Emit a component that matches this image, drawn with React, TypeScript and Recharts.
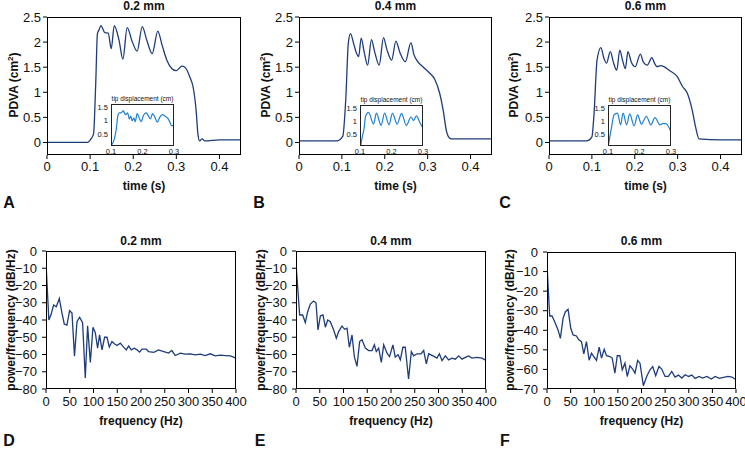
import React from 'react';
import { LineChart, Line, XAxis, YAxis } from 'recharts';

const FONT = '"Liberation Sans", Arial, Helvetica, sans-serif';
const NAVY = '#1f3c7a';
const INSET_BLUE = '#1f80d0';
const TEXT = '#111';

// PDVA traces (time in s, area in cm^2)
const timeA = [0, 0.05, 0.094, 0.102, 0.108, 0.113, 0.117, 0.121, 0.125, 0.134, 0.142, 0.149, 0.156, 0.167, 0.176, 0.186, 0.198, 0.209, 0.221, 0.232, 0.244, 0.257, 0.267, 0.278, 0.29, 0.3, 0.313, 0.32, 0.332, 0.339, 0.346, 0.35, 0.354, 0.36, 0.366, 0.4, 0.45];
const pdvaA = [0, 0, 0, 0.07, 0.17, 1.17, 2.17, 2.25, 2.33, 2.19, 2.18, 1.87, 2.33, 2.04, 1.66, 2.29, 2.0, 1.82, 2.31, 2.02, 1.77, 2.22, 1.94, 1.64, 1.47, 1.43, 1.52, 1.5, 1.29, 1.1, 0.63, 0.17, 0.03, 0.07, 0.03, 0.05, 0.05];

const timeB = [0, 0.05, 0.088, 0.102, 0.109, 0.115, 0.12, 0.128, 0.134, 0.139, 0.145, 0.152, 0.16, 0.169, 0.176, 0.187, 0.197, 0.205, 0.216, 0.226, 0.235, 0.248, 0.261, 0.268, 0.276, 0.29, 0.305, 0.317, 0.328, 0.336, 0.344, 0.348, 0.355, 0.4, 0.45];
const pdvaB = [0.03, 0.03, 0.03, 0.12, 0.85, 1.98, 2.17, 1.95, 1.78, 1.71, 2.08, 1.8, 1.54, 2.05, 1.82, 1.54, 2.09, 1.85, 1.64, 2.02, 1.8, 1.61, 1.99, 1.75, 1.62, 1.5, 1.38, 1.25, 0.98, 0.65, 0.22, 0.12, 0.07, 0.07, 0.07];

const timeC = [0, 0.05, 0.088, 0.1, 0.105, 0.112, 0.121, 0.128, 0.134, 0.143, 0.15, 0.158, 0.165, 0.172, 0.178, 0.184, 0.192, 0.201, 0.213, 0.22, 0.229, 0.24, 0.246, 0.252, 0.26, 0.268, 0.28, 0.299, 0.311, 0.323, 0.334, 0.342, 0.35, 0.4, 0.45];
const pdvaC = [0.03, 0.03, 0.03, 0.11, 0.57, 1.64, 1.89, 1.68, 1.58, 1.81, 1.6, 1.44, 1.84, 1.62, 1.47, 1.81, 1.6, 1.51, 1.76, 1.6, 1.54, 1.69, 1.58, 1.51, 1.53, 1.51, 1.44, 1.31, 1.12, 0.97, 0.64, 0.3, 0.07, 0.05, 0.05];

// tip displacement insets (cm)
const tipTimeA = [0.103, 0.11, 0.116, 0.122, 0.126, 0.132, 0.139, 0.146, 0.153, 0.158, 0.163, 0.167, 0.173, 0.177, 0.183, 0.191, 0.196, 0.203, 0.211, 0.219, 0.225, 0.232, 0.239, 0.247, 0.255, 0.263, 0.271, 0.28, 0.287, 0.292, 0.3];
const tipA = [0.1, 0.29, 0.62, 1.19, 1.29, 1.29, 1.36, 1.22, 1.29, 1.06, 1.17, 1.0, 1.09, 0.96, 1.26, 1.06, 0.96, 1.19, 1.29, 1.17, 1.06, 1.26, 1.13, 0.94, 1.13, 1.22, 1.17, 1.09, 0.94, 0.81, 0.81];

const tipTimeB = [0.102, 0.107, 0.113, 0.118, 0.127, 0.143, 0.152, 0.167, 0.178, 0.192, 0.203, 0.218, 0.232, 0.247, 0.262, 0.27, 0.279, 0.29, 0.3];
const tipB = [0.05, 0.39, 0.73, 1.2, 1.34, 0.89, 1.31, 0.84, 1.31, 0.86, 1.3, 0.89, 1.3, 0.84, 1.16, 1.03, 1.2, 0.95, 0.73];

const tipTimeC = [0.102, 0.111, 0.119, 0.13, 0.14, 0.148, 0.159, 0.169, 0.183, 0.194, 0.206, 0.222, 0.236, 0.249, 0.265, 0.276, 0.286, 0.3];
const tipC = [0.12, 0.75, 1.24, 1.31, 0.86, 1.31, 0.86, 1.28, 0.82, 1.24, 0.89, 1.19, 0.86, 1.14, 0.86, 0.92, 0.89, 0.58];

// power spectra (Hz, dB/Hz)
const freqD = [0, 6, 10.5, 16, 21.7, 28, 33.6, 38.5, 44, 49.7, 54.7, 60, 65.2, 70.8, 77, 82.7, 87.6, 93.3, 98.9, 103.8, 108.6, 112.8, 117.9, 123.4, 128.4, 133.3, 138.9, 143.9, 149.5, 156.4, 163.4, 169, 174, 179.6, 185.9, 191.6, 197, 202, 211, 216, 227, 237, 248, 258, 265, 272, 283, 293, 304, 314, 325, 335, 346, 356, 367, 378, 388, 395, 400];
const dbD = [-7, -40, -37, -31.3, -32.3, -27.5, -36, -42.3, -43, -34.6, -36, -61, -41, -38.4, -41.5, -73.6, -43.4, -64.6, -44.2, -47.3, -56.3, -48.6, -57.3, -50, -50, -55.7, -52.5, -53.8, -54.8, -53.4, -55.7, -57.3, -55, -57.3, -56.4, -57.3, -58.6, -56.9, -56.9, -58.3, -58.8, -57.3, -58.3, -59.2, -57.7, -60.6, -59.2, -59.8, -59.6, -60.2, -59.8, -60.6, -59.6, -60.8, -60.4, -60.6, -60.8, -61.5, -62.3];

const freqE = [0, 7.7, 14, 19.6, 24.6, 30.2, 37.2, 42.1, 46.3, 51.2, 56.8, 61.8, 66.7, 72.3, 79.3, 84.9, 89.8, 96.8, 102.5, 107.4, 112.3, 117.9, 122.8, 128.4, 134, 139, 146, 153, 160, 165, 169, 174, 179.6, 184.6, 191.6, 197, 204, 209, 215, 219.6, 225, 230, 237, 242.8, 247.7, 254.7, 263, 268.8, 274.4, 279.3, 288.4, 296.8, 301.8, 307.4, 314.4, 321.4, 328.4, 335.4, 342.5, 349.5, 356.5, 363.5, 370.5, 381, 391.6, 400];
const dbE = [-7.3, -37.1, -37.1, -41.5, -35.2, -30.8, -29, -30, -45.8, -37.7, -37.1, -44.2, -40, -41, -45.8, -50.6, -46.7, -43.5, -45.4, -44.8, -55.8, -48.7, -61.2, -66.9, -52.5, -51.5, -56.3, -57.7, -57.7, -54.4, -58.3, -56.3, -64.6, -54.4, -59.2, -61.2, -54.4, -61.5, -60.2, -63.1, -55.8, -55.8, -74.2, -58.3, -60.8, -59.6, -59.6, -57.7, -65.4, -59.6, -60.8, -62.1, -59.6, -63.5, -60.8, -63.1, -62.1, -62.7, -60.8, -62.7, -61.7, -60.8, -62.1, -61.7, -62.1, -63.5];

const freqF = [0, 5.7, 10.6, 16.3, 23.4, 28.3, 34, 38.9, 44.6, 50.3, 55.2, 62.3, 67.3, 72.9, 77.9, 83.5, 89.2, 94.2, 99.1, 104.8, 110.4, 115.4, 121, 126, 133, 138, 143.7, 148.7, 154.3, 159.3, 165, 169.9, 175.6, 181.2, 186.2, 191.9, 196.8, 203.9, 211, 218, 223.7, 230, 237, 242.8, 249.9, 257, 264, 271, 278.2, 285.3, 292.4, 299.5, 306.5, 313.6, 322, 329.2, 338.4, 347.6, 356, 364.6, 373.8, 383, 391.5, 400];
const dbF = [-6.8, -32.7, -32.7, -35.6, -39.8, -44.1, -33.9, -30.5, -29.3, -39, -42.4, -42.9, -44.9, -45.8, -52, -45.8, -55.3, -51.7, -53.4, -55.4, -48.6, -54.2, -49.7, -53, -53.4, -54.2, -61.9, -53, -53, -60.2, -56.8, -63.6, -58.1, -59.8, -61.9, -55.4, -56.8, -68.3, -63.6, -60.2, -58.5, -63.2, -58.5, -59.8, -63.6, -63.6, -61, -63.9, -62.9, -64.4, -62.7, -63.6, -62.9, -64.6, -63.6, -64.4, -63.6, -64.9, -63.6, -64.6, -64.1, -63.6, -63.9, -65.3];

const timeTicks = [0, 0.1, 0.2, 0.3, 0.4];
const pdvaTicks = [0, 0.5, 1, 1.5, 2, 2.5];
const tipTimeTicks = [0.1, 0.2, 0.3];
const tipTicks = [0.5, 1, 1.5];
const freqTicks = [0, 50, 100, 150, 200, 250, 300, 350, 400];
const dbTicks80 = [-80, -70, -60, -50, -40, -30, -20, -10, 0];
const dbTicks70 = [-70, -60, -50, -40, -30, -20, -10, 0];

const toPoints = (xs: number[], ys: number[]) => xs.map((x, i) => ({ x, y: ys[i] }));
const withMinus = (v: number) => String(v).replace('-', '\u2212');

type Box = { left: number; top: number; width: number; height: number };

const PAD_L = 45;
const PAD_T = 10;
const PAD_R = 16;
const PAD_B = 26;

interface PanelProps {
  box: Box;
  points: { x: number; y: number }[];
  xDomain: [number, number];
  xTicks: number[];
  yDomain: [number, number];
  yTicks: number[];
  curve: 'monotone' | 'linear';
  xGap: number;
  yGap: number;
}

const Panel: React.FC<PanelProps> = ({ box, points, xDomain, xTicks, yDomain, yTicks, curve, xGap, yGap }) => {
  const tick = { fontSize: 13, fill: TEXT, fontFamily: FONT };
  return (
    <>
      <div style={{ position: 'absolute', left: box.left - PAD_L, top: box.top - PAD_T }}>
        <LineChart
          width={box.width + PAD_L + PAD_R}
          height={box.height + PAD_T + PAD_B}
          data={points}
          margin={{ top: PAD_T, right: PAD_R, left: 0, bottom: 0 }}
        >
          <XAxis
            dataKey="x"
            type="number"
            domain={xDomain}
            ticks={xTicks}
            interval={0}
            allowDataOverflow
            axisLine={false}
            tickLine={{ stroke: '#000' }}
            tickSize={4}
            tickMargin={xGap}
            height={PAD_B}
            tick={tick}
            tickFormatter={withMinus}
          />
          <YAxis
            type="number"
            domain={yDomain}
            ticks={yTicks}
            interval={0}
            allowDataOverflow
            axisLine={false}
            tickLine={{ stroke: '#000' }}
            tickSize={4}
            tickMargin={yGap}
            width={PAD_L}
            tick={tick}
            tickFormatter={withMinus}
          />
          <Line
            dataKey="y"
            type={curve}
            stroke={NAVY}
            strokeWidth={1.3}
            dot={false}
            isAnimationActive={false}
          />
        </LineChart>
      </div>
      <div
        style={{
          position: 'absolute',
          left: box.left,
          top: box.top,
          width: box.width,
          height: box.height,
          border: '1px solid #000',
          boxSizing: 'border-box',
          pointerEvents: 'none',
        }}
      />
    </>
  );
};

const Inset: React.FC<{ box: Box; points: { x: number; y: number }[] }> = ({ box, points }) => {
  const tick = { fontSize: 7.5, fill: TEXT, fontFamily: FONT };
  const padL = 16;
  const padB = 12;
  const padT = 5;
  const padR = 8;
  return (
    <>
      <div
        style={{
          position: 'absolute',
          left: box.left,
          top: box.top,
          width: box.width,
          height: box.height,
          background: '#fff',
        }}
      />
      <div style={{ position: 'absolute', left: box.left - padL, top: box.top - padT }}>
        <LineChart
          width={box.width + padL + padR}
          height={box.height + padB + padT}
          data={points}
          margin={{ top: padT, right: padR, left: 0, bottom: 0 }}
        >
          <XAxis
            dataKey="x"
            type="number"
            domain={[0.1, 0.3]}
            ticks={tipTimeTicks}
            interval={0}
            allowDataOverflow
            axisLine={false}
            tickLine={false}
            tickSize={0}
            tickMargin={3}
            height={padB}
            tick={tick}
          />
          <YAxis
            type="number"
            domain={[0.05, 1.62]}
            ticks={tipTicks}
            interval={0}
            allowDataOverflow
            axisLine={false}
            tickLine={false}
            tickSize={0}
            tickMargin={3}
            width={padL}
            tick={tick}
          />
          <Line
            dataKey="y"
            type="monotone"
            stroke={INSET_BLUE}
            strokeWidth={1.2}
            dot={false}
            isAnimationActive={false}
          />
        </LineChart>
      </div>
      <div
        style={{
          position: 'absolute',
          left: box.left,
          top: box.top,
          width: box.width,
          height: box.height,
          border: '1px solid #222',
          boxSizing: 'border-box',
        }}
      />
      <Text x={box.left + box.width / 2} y={box.top - 5} size={6.5} weight={400}>
        tip displacement (cm)
      </Text>
    </>
  );
};

const Text: React.FC<{ x: number; y: number; size: number; weight?: number; rotate?: boolean; children: React.ReactNode }> = ({
  x,
  y,
  size,
  weight = 700,
  rotate,
  children,
}) => (
  <div
    style={{
      position: 'absolute',
      left: x,
      top: y,
      transform: `translate(-50%, -50%)${rotate ? ' rotate(-90deg)' : ''}`,
      whiteSpace: 'nowrap',
      fontFamily: FONT,
      fontSize: size,
      fontWeight: weight,
      color: TEXT,
      lineHeight: 1,
    }}
  >
    {children}
  </div>
);

const boxA: Box = { left: 47, top: 17, width: 194, height: 138 };
const boxB: Box = { left: 299, top: 17, width: 193, height: 138 };
const boxC: Box = { left: 549, top: 17, width: 193, height: 138 };
const boxD: Box = { left: 46, top: 251, width: 190, height: 138 };
const boxE: Box = { left: 296, top: 251, width: 190, height: 138 };
const boxF: Box = { left: 547, top: 252, width: 189, height: 137 };

const insetA: Box = { left: 111, top: 104, width: 63, height: 42 };
const insetB: Box = { left: 360, top: 105, width: 63, height: 41 };
const insetC: Box = { left: 608, top: 105, width: 63, height: 41 };

const mid = (b: Box) => b.left + b.width / 2;

const App: React.FC = () => {
  const top = [
    { box: boxA, pts: toPoints(timeA, pdvaA), inset: insetA, tip: toPoints(tipTimeA, tipA), title: '0.2 mm', letter: 'A', labelX: 13, letterX: 9 },
    { box: boxB, pts: toPoints(timeB, pdvaB), inset: insetB, tip: toPoints(tipTimeB, tipB), title: '0.4 mm', letter: 'B', labelX: 265, letterX: 259 },
    { box: boxC, pts: toPoints(timeC, pdvaC), inset: insetC, tip: toPoints(tipTimeC, tipC), title: '0.6 mm', letter: 'C', labelX: 513, letterX: 505 },
  ];
  const bottom = [
    { box: boxD, pts: toPoints(freqD, dbD), yDomain: [-80, 0] as [number, number], yTicks: dbTicks80, title: '0.2 mm', letter: 'D', labelX: 11, letterX: 9 },
    { box: boxE, pts: toPoints(freqE, dbE), yDomain: [-80, 0] as [number, number], yTicks: dbTicks80, title: '0.4 mm', letter: 'E', labelX: 261, letterX: 260 },
    { box: boxF, pts: toPoints(freqF, dbF), yDomain: [-70, 0] as [number, number], yTicks: dbTicks70, title: '0.6 mm', letter: 'F', labelX: 510, letterX: 505 },
  ];

  return (
    <div style={{ position: 'absolute', left: 0, top: 0, width: 745, height: 450, background: '#fff', overflow: 'hidden' }}>
      {top.map((p) => (
        <React.Fragment key={p.letter}>
          <Panel
            box={p.box}
            points={p.pts}
            xDomain={[0, 0.45]}
            xTicks={timeTicks}
            yDomain={[-0.25, 2.5]}
            yTicks={pdvaTicks}
            curve="monotone"
            xGap={3}
            yGap={2}
          />
          <Inset box={p.inset} points={p.tip} />
          <Text x={mid(p.box)} y={6} size={12}>{p.title}</Text>
          <Text x={mid(p.box)} y={186} size={12}>time (s)</Text>
          <Text x={p.labelX} y={85} size={12} rotate>
            PDVA (cm<sup style={{ fontSize: 8 }}>2</sup>)
          </Text>
          <Text x={p.letterX} y={203} size={16}>{p.letter}</Text>
        </React.Fragment>
      ))}
      {bottom.map((p) => (
        <React.Fragment key={p.letter}>
          <Panel
            box={p.box}
            points={p.pts}
            xDomain={[0, 400]}
            xTicks={freqTicks}
            yDomain={p.yDomain}
            yTicks={p.yTicks}
            curve="linear"
            xGap={4}
            yGap={5}
          />
          <Text x={mid(p.box)} y={241} size={12}>{p.title}</Text>
          <Text x={mid(p.box)} y={421} size={12}>frequency (Hz)</Text>
          <Text x={p.labelX} y={320} size={12} rotate>power/frequency (dB/Hz)</Text>
          <Text x={p.letterX} y={441} size={16}>{p.letter}</Text>
        </React.Fragment>
      ))}
    </div>
  );
};

export default App;
